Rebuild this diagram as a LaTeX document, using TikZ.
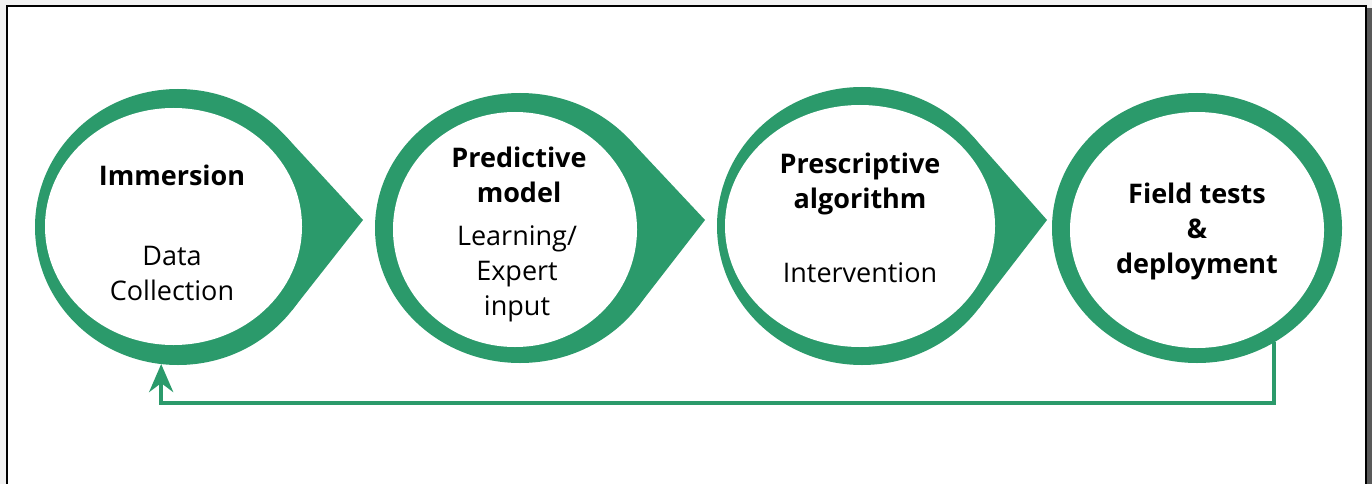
\documentclass[tikz,border=0pt]{standalone}
\usepackage{fontspec}
\setmainfont{Open Sans}
\usetikzlibrary{arrows.meta,shapes.geometric}
\definecolor{cycle green}{HTML}{2B9A6B}
\colorlet{frame shadow}{black!65}
\colorlet{page gray}{black!5}
\tikzset{
    x={1pt},
    y={-1pt},
    ring/.style={
        ellipse, fill=cycle green,
        inner sep=0pt, outer sep=0pt,
    },
    stage/.style={
        ellipse, fill=white,
        inner sep=0pt, outer sep=0pt,
    },
    pointer/.style={
        fill=cycle green,
    },
    stage title/.style={
        font={\fontsize{27}{35}\selectfont\bfseries},
        align=center,
        anchor=base,
        inner sep=0pt,
    },
    stage task/.style={
        font={\fontsize{27}{35}\selectfont},
        align=center,
        anchor=base,
        inner sep=0pt,
    },
    feedback/.style={
        draw=cycle green,
        line width={4pt},
        -{Stealth[length=28pt, width=24pt, inset=9pt]},
    },
}

\begin{document}
\begin{tikzpicture}
\useasboundingbox (0,0) rectangle (1372,484);
% page and frame
\fill[page gray] (0,0) rectangle (1372,484);
\fill[white] (7,6) rectangle (1366,484);
\fill[frame shadow] (1367,8) rectangle (1372,484);
\draw[line width={1.5pt}] (7,484) |- (1366,6) -- (1366,484);
% outer rings
\node[ring, minimum width=286, minimum height=276] (r1) at (178,227) {};
\node[ring, minimum width=290, minimum height=270] (r2) at (520,228) {};
\node[ring, minimum width=290, minimum height=278] (r3) at (862,226) {};
\node[ring, minimum width=290, minimum height=270] (r4) at (1197,228) {};
% pointers
\fill[pointer] (363,220) -- (r1.40.6) -- (r1.center) -- (r1.-36.2) -- cycle;
\fill[pointer] (705,220) -- (r2.39.1) -- (r2.center) -- (r2.-34.0) -- cycle;
\fill[pointer] (1047,220) -- (r3.39.2) -- (r3.center) -- (r3.-35.3) -- cycle;
% stages
\node[stage, minimum width=257, minimum height=237] (s1) at (173.5,226.5) {};
\node[stage, minimum width=244, minimum height=235] (s2) at (515,229.5) {};
\node[stage, minimum width=270, minimum height=242] (s3) at (860,226) {};
\node[stage, minimum width=254, minimum height=236] (s4) at (1197,230) {};
% texts (base = last line)
\node[stage title] (t1) at (172,185) {Immersion};
\node[stage task] (d1) at (172,300) {Data\\Collection};
\node[stage title] (t2) at (519,202) {Predictive\\model};
\node[stage task] (d2) at (517,315) {Learning/\\Expert\\input};
\node[stage title] (t3) at (860,208) {Prescriptive\\algorithm};
\node[stage task] (d3) at (860,282) {Intervention};
\node[stage title] (t4) at (1197,273) {Field tests\\\&\\deployment};
% feedback loop
\draw[feedback] (r4.-56) |- ([yshift=-39pt]r1.263) -- (r1.263);
\end{tikzpicture}
\end{document}
